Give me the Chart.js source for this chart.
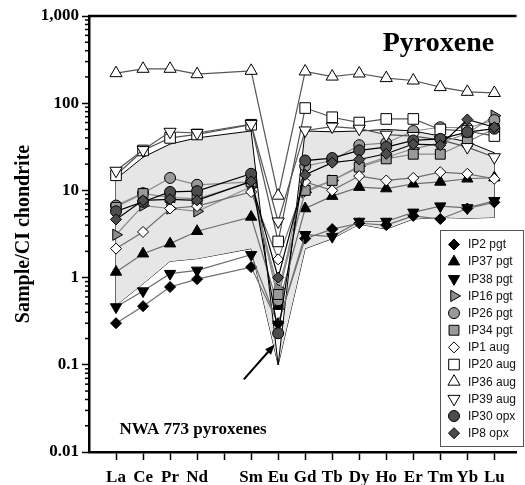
<!DOCTYPE html>
<html>
<head>
<meta charset="utf-8">
<script src="https://cdn.jsdelivr.net/npm/chart.js@4.4.1/dist/chart.umd.min.js"></script>
<style>
  html, body { margin: 0; padding: 0; background: #fff; }
</style>
</head>
<body>
<canvas id="reeChart" width="525" height="485"></canvas>
<script>
// element slots on the x axis (Pm is left empty)
const elements = ["La", "Ce", "Pr", "Nd", "Pm", "Sm", "Eu", "Gd", "Tb", "Dy", "Ho", "Er", "Tm", "Yb", "Lu"];
const measured = ["La", "Ce", "Pr", "Nd", "Sm", "Eu", "Gd", "Tb", "Dy", "Ho", "Er", "Tm", "Yb", "Lu"];
const yTickValues = [0.01, 0.1, 1, 10, 100, 1000];
const yTickLabels = ["0.01", "0.1", "1", "10", "100", "1,000"];

// sample / CI chondrite, order as in `measured`
const ip2Pgt  = [0.30, 0.47, 0.78, 0.96, 1.32, 0.30, 2.8, 3.6, 4.2, 4.0, 5.1, 4.7, 6.2, 7.3];
const ip37Pgt = [1.16, 1.88, 2.45, 3.4, 4.96, 0.47, 6.2, 8.6, 10.9, 10.5, 11.9, 12.5, 13.6, 14];
const ip38Pgt = [0.46, 0.70, 1.11, 1.21, 1.83, 0.29, 3.1, 2.95, 4.4, 4.4, 5.6, 6.6, 6.3, 7.6];
const ip16Pgt = [3.1, 6.7, 6.2, 5.75, 11, 0.75, 9.5, 13, 19, 24, 30, 35, 45, 72];
const ip26Pgt = [6.7, 9.3, 13.9, 11.6, 12.5, 0.55, 19, 22, 33, 35, 48, 53, 52, 64];
const ip34Pgt = [6.4, 9.2, 8.3, 8.0, 12.5, 0.64, 10, 13, 18.5, 23, 26, 26, 36, 51];
const ip1Aug  = [2.15, 3.34, 6.2, 6.6, 9.6, 1.62, 12.5, 10, 14.6, 13, 13.9, 16.2, 15.5, 13.6];
const ip20Aug = [14.9, 28.7, 40, 43.8, 56.6, 2.6, 88, 69, 60, 66, 66, 50, 48, 42];
const ip36Aug = [221, 248, 248, 215, 235, 8.7, 231, 202, 219, 194, 182, 153, 135, 131];
const ip39Aug = [16.8, 29, 47, 45.5, 57.6, 4.4, 48.7, 54, 51, 43.5, 42, 38, 31.4, 24];
const ip30Opx = [5.75, 7.4, 9.6, 9.8, 15.5, 0.23, 22, 23.5, 28.8, 31.4, 37.4, 39, 46.6, 51];
const ip8Opx  = [4.65, 7.7, 7.9, 7.7, 12.7, 1.0, 15.1, 20.8, 22.6, 26.3, 34, 33, 65, 53];

// shaded reference field
const fieldUpper = [13.5, 24, 34, 40, 48, 0.1, 48, 47, 48, 50, 48, 42, 36, 27];
const fieldLower = [0.48, 0.85, 1.54, 1.65, 2.15, 0.1, 2.15, 2.8, 4.1, 3.6, 4.7, 4.9, 4.8, 4.9];

const seriesNames = ["IP2 pgt", "IP37 pgt", "IP38 pgt", "IP16 pgt", "IP26 pgt", "IP34 pgt",
  "IP1 aug", "IP20 aug", "IP36 aug", "IP39 aug", "IP30 opx", "IP8 opx"];
const seriesValues = [ip2Pgt, ip37Pgt, ip38Pgt, ip16Pgt, ip26Pgt, ip34Pgt,
  ip1Aug, ip20Aug, ip36Aug, ip39Aug, ip30Opx, ip8Opx];

const styles = [
  { pointStyle: "rectRot", rotation: 0, fill: "#000", radius: 5.5, line: "#6e6e6e" },
  { pointStyle: "triangle", rotation: 0, fill: "#000", radius: 6.5, line: "#6e6e6e" },
  { pointStyle: "triangle", rotation: 180, fill: "#000", radius: 6.5, line: "#6e6e6e" },
  { pointStyle: "triangle", rotation: 90, fill: "#8c8c8c", radius: 6.5, line: "#8c8c8c" },
  { pointStyle: "circle", rotation: 0, fill: "#999", radius: 5.5, line: "#8c8c8c" },
  { pointStyle: "rect", rotation: 0, fill: "#999", radius: 7, line: "#8c8c8c" },
  { pointStyle: "rectRot", rotation: 0, fill: "#fff", radius: 5.5, line: "#6e6e6e" },
  { pointStyle: "rect", rotation: 0, fill: "#fff", radius: 7.5, line: "#555" },
  { pointStyle: "triangle", rotation: 0, fill: "#fff", radius: 7, line: "#555" },
  { pointStyle: "triangle", rotation: 180, fill: "#fff", radius: 7, line: "#555" },
  { pointStyle: "circle", rotation: 0, fill: "#4d4d4d", radius: 5.5, line: "#000" },
  { pointStyle: "rectRot", rotation: 0, fill: "#4d4d4d", radius: 5.5, line: "#000" }
];

const serif = "'Times New Roman', 'Liberation Serif', serif";
const sans = "Arial, 'Liberation Sans', sans-serif";

function toPoints(values) {
  return values.map((v, i) => ({ x: elements.indexOf(measured[i]) + 1, y: v }));
}

const datasets = seriesValues.map((vals, i) => ({
  label: seriesNames[i],
  data: toPoints(vals),
  borderColor: styles[i].line,
  borderWidth: 1.2,
  pointStyle: styles[i].pointStyle,
  pointRotation: styles[i].rotation,
  pointRadius: styles[i].radius,
  pointBackgroundColor: styles[i].fill,
  pointBorderColor: "#000",
  pointBorderWidth: 1,
  fill: false,
  order: seriesNames.length - i
}));

const last = measured.length - 1;
datasets.push(
  { label: "field top", data: toPoints(fieldUpper), borderColor: "#000", borderWidth: 1,
    pointRadius: 0, fill: "+1", backgroundColor: "#e6e6e6", order: 100 },
  { label: "field bottom", data: toPoints(fieldLower), borderColor: "#000", borderWidth: 1,
    pointRadius: 0, fill: false, order: 100 },
  { label: "field edges", borderColor: "#555", borderWidth: 1, pointRadius: 0, fill: false, order: 100,
    data: [
      { x: 1, y: fieldUpper[0] }, { x: 1, y: fieldLower[0] }, { x: 8, y: null },
      { x: 15, y: fieldUpper[last] }, { x: 15, y: fieldLower[last] }
    ] }
);

function drawMarker(ctx, st, x, y) {
  ctx.fillStyle = st.fill;
  ctx.strokeStyle = "#000";
  ctx.lineWidth = 1;
  Chart.helpers.drawPoint(ctx, { pointStyle: st.pointStyle, rotation: st.rotation, radius: st.radius, borderWidth: 1 }, x, y);
}

const decorations = {
  id: "decorations",
  afterDraw(chart) {
    const { ctx, chartArea: a, scales: { x, y } } = chart;
    ctx.save();

    // top frame line
    ctx.strokeStyle = "#000";
    ctx.lineWidth = 2.5;
    ctx.beginPath();
    ctx.moveTo(a.left - 1, a.top);
    ctx.lineTo(a.right, a.top);
    ctx.stroke();

    // minor log ticks
    ctx.lineWidth = 1.5;
    y.ticks.forEach(t => {
      if (t.major) return;
      const py = y.getPixelForValue(t.value);
      ctx.beginPath();
      ctx.moveTo(a.left - 4, py);
      ctx.lineTo(a.left, py);
      ctx.stroke();
    });

    // title
    ctx.fillStyle = "#000";
    ctx.font = "bold 28px " + serif;
    ctx.textAlign = "center";
    ctx.textBaseline = "middle";
    ctx.fillText("Pyroxene", x.getPixelForValue(12.93), y.getPixelForValue(480));

    // annotation + arrow
    ctx.font = "bold 17px " + serif;
    ctx.textAlign = "left";
    ctx.fillText("NWA 773 pyroxenes", x.getPixelForValue(1.13), y.getPixelForValue(0.018));
    const x0 = x.getPixelForValue(5.73), y0 = y.getPixelForValue(0.068);
    const x1 = x.getPixelForValue(6.87), y1 = y.getPixelForValue(0.171);
    const ang = Math.atan2(y1 - y0, x1 - x0);
    ctx.lineWidth = 2;
    ctx.beginPath();
    ctx.moveTo(x0, y0);
    ctx.lineTo(x1 - 6 * Math.cos(ang), y1 - 6 * Math.sin(ang));
    ctx.stroke();
    ctx.beginPath();
    ctx.moveTo(x1, y1);
    ctx.lineTo(x1 - 10 * Math.cos(ang) + 4 * Math.sin(ang), y1 - 10 * Math.sin(ang) - 4 * Math.cos(ang));
    ctx.lineTo(x1 - 10 * Math.cos(ang) - 4 * Math.sin(ang), y1 - 10 * Math.sin(ang) + 4 * Math.cos(ang));
    ctx.closePath();
    ctx.fill();

    // legend box
    const bx = 440.5, by = 230.5, bw = 83, bh = 216;
    ctx.fillStyle = "#fff";
    ctx.fillRect(bx, by, bw, bh);
    ctx.strokeStyle = "#555";
    ctx.lineWidth = 1;
    ctx.strokeRect(bx, by, bw, bh);
    ctx.font = "12px " + sans;
    ctx.textBaseline = "middle";
    seriesNames.forEach((name, i) => {
      const ly = 244.5 + i * 17.15;
      drawMarker(ctx, styles[i], 454, ly);
      ctx.fillStyle = "#111";
      ctx.fillText(name, 468, ly + 0.5);
    });

    ctx.restore();
  }
};

new Chart(document.getElementById("reeChart").getContext("2d"), {
  type: "line",
  data: { datasets },
  options: {
    responsive: false,
    animation: false,
    devicePixelRatio: 1,
    layout: { padding: { top: 16, right: 1, left: 0, bottom: 0 } },
    plugins: { legend: { display: false }, tooltip: { enabled: false } },
    scales: {
      x: {
        type: "linear",
        min: 0,
        max: 15.82,
        afterFit: s => { s.height = 33; },
        afterBuildTicks: s => { s.ticks = elements.map((e, i) => ({ value: i + 1 })); },
        ticks: {
          autoSkip: false,
          maxRotation: 0,
          padding: 7,
          color: "#000",
          font: { family: serif, size: 17, weight: "bold" },
          callback: v => (elements[v - 1] === "Pm" ? "" : elements[v - 1])
        },
        grid: { drawOnChartArea: false, tickLength: 8, tickColor: "#000", tickWidth: 1.5 },
        border: { color: "#000", width: 2.5 }
      },
      y: {
        type: "logarithmic",
        min: 0.01,
        max: 1000,
        afterFit: s => { s.width = 89; },
        afterBuildTicks: s => {
          const t = [];
          yTickValues.forEach((v, i) => {
            t.push({ value: v, major: true });
            if (i < yTickValues.length - 1) {
              for (let k = 2; k <= 9; k++) t.push({ value: +(v * k).toPrecision(3), major: false });
            }
          });
          s.ticks = t;
        },
        ticks: {
          autoSkip: false,
          padding: 3,
          color: "#000",
          font: { family: serif, size: 17, weight: "bold" },
          callback: v => {
            const i = yTickValues.findIndex(m => Math.abs(m - v) < m * 1e-6);
            return i >= 0 ? yTickLabels[i] : "";
          }
        },
        grid: {
          drawOnChartArea: false,
          tickLength: 7,
          tickWidth: 1.5,
          tickColor: c => (c.tick && c.tick.major ? "#000" : "rgba(0,0,0,0)")
        },
        border: { color: "#000", width: 2.5 },
        title: {
          display: true,
          text: "Sample/CI chondrite",
          color: "#000",
          font: { family: serif, size: 20, weight: "bold" },
          padding: { top: 12, bottom: 0 }
        }
      }
    }
  },
  plugins: [decorations]
});
</script>
</body>
</html>
